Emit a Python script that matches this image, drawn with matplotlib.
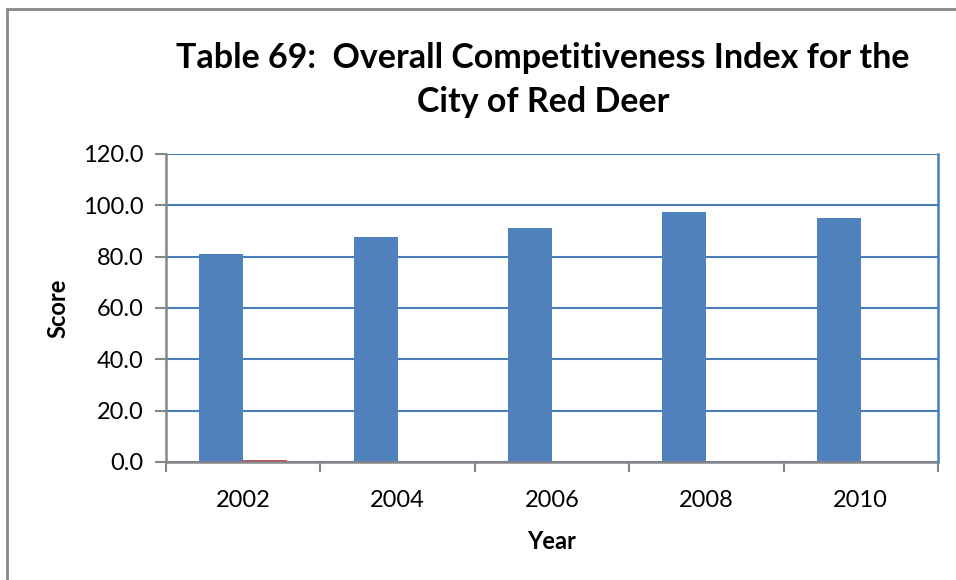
import numpy as np
import matplotlib.pyplot as plt
from matplotlib.patches import Rectangle

years = ["2002", "2004", "2006", "2008", "2010"]
score = [81.0, 87.6, 91.2, 97.4, 95.1]
other = [0.6, 0.0, 0.0, 0.0, 0.0]

blue = "#4F81BD"
red = "#C0504D"
grid_blue = "#4A7EBB"
axis_gray = "#868686"

plt.rcParams['font.family'] = ['Lato', 'DejaVu Sans']

fig = plt.figure(figsize=(9.56, 5.8), dpi=100)
W, H = 956, 580
ax = fig.add_axes([166 / W, 1 - 462 / H, (938 - 166) / W, (462 - 154) / H])

x = np.arange(len(years))
bw = 0.285
ax.bar(x - bw / 2, score, bw, color=blue, zorder=3)
ax.bar(x + bw / 2, other, bw, color=red, zorder=3)

ax.set_xlim(-0.5, len(years) - 0.5)
ax.set_ylim(0, 120)
ax.set_yticks(np.arange(0, 121, 20))
ax.set_yticklabels(["%.1f" % v for v in np.arange(0, 121, 20)], fontsize=17)
ax.set_xticks(x)
ax.set_xticklabels(years, fontsize=17)
ax.set_xticks(np.arange(-0.5, len(years)), minor=True)
ax.tick_params(axis='x', which='major', length=0, pad=20)
ax.tick_params(axis='x', which='minor', length=7, color=axis_gray, width=1.5)
ax.tick_params(axis='y', length=8, color=axis_gray, width=1.5, pad=8)

ax.grid(True, axis='y', color=grid_blue, lw=1.5, zorder=0)
for s in ['left', 'bottom']:
    ax.spines[s].set_color(axis_gray)
    ax.spines[s].set_linewidth(1.8)
    ax.spines[s].set_zorder(4)
ax.spines['top'].set_visible(False)
ax.spines['right'].set_color(grid_blue)
ax.spines['right'].set_linewidth(1.8)

ax.set_ylabel("Score", fontsize=17, fontweight='bold', labelpad=10)
ax.set_xlabel("Year", fontsize=17, fontweight='bold', labelpad=14)

fig.text(543 / W, 1 - 80 / H, "Table 69:  Overall Competitiveness Index for the\nCity of Red Deer",
         ha='center', va='center', fontsize=24.5, fontweight='bold', linespacing=1.45)

# chart area border (top and left edges visible)
fig.add_artist(Rectangle((7 / W, -0.1), 1.2, 1 - 9.5 / H + 0.1, transform=fig.transFigure,
                         fill=False, ec="#888888", lw=2))

fig.savefig("out.png", dpi=100)
